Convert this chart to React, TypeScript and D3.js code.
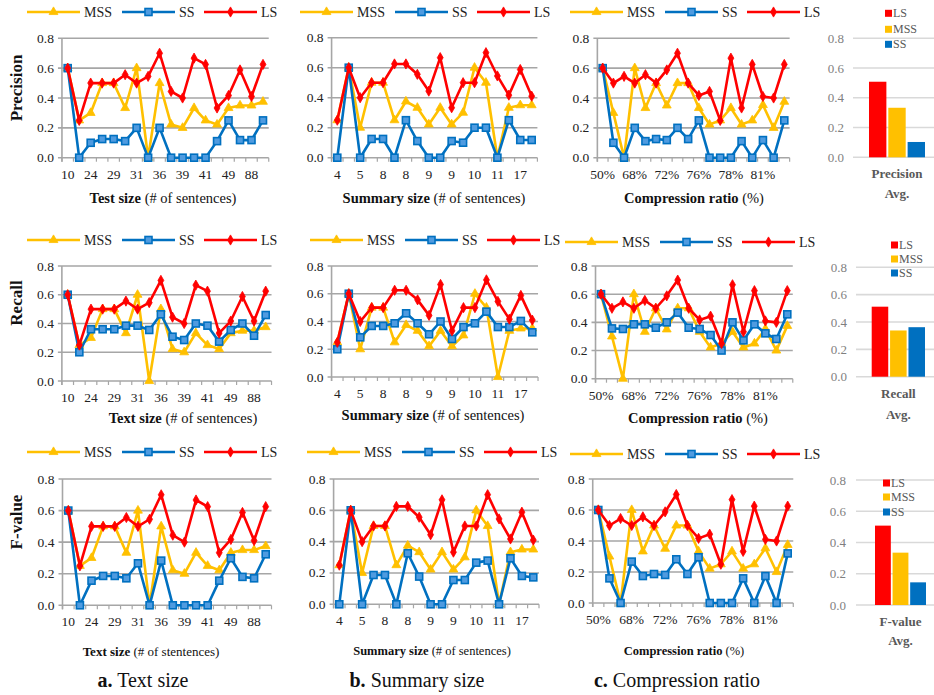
import React from 'react';
import * as d3 from 'd3';

const FONT = '"Liberation Serif", "Times New Roman", serif';
const COLORS: Record<string, string> = { MSS: '#FFC000', SS: '#0070C0', LS: '#FF0000' };
const SERIES = ['MSS', 'SS', 'LS'];

// tick labels
const textSizeTicks = ['10', '24', '29', '31', '36', '39', '41', '49', '88'];
const summarySizeTicks = ['4', '5', '8', '8', '9', '9', '10', '11', '17'];
const compressionTicks = ['50%', '68%', '72%', '76%', '78%', '81%'];

// a. Text size
const textPrecLS = [0.6, 0.25, 0.5, 0.5, 0.5, 0.556, 0.5, 0.545, 0.7, 0.444, 0.4, 0.667, 0.625, 0.333, 0.417, 0.588, 0.41, 0.625];
const textPrecMSS = [0.6, 0.25, 0.3, 0.5, 0.5, 0.333, 0.6, 0.0, 0.5, 0.222, 0.2, 0.333, 0.25, 0.222, 0.333, 0.35, 0.35, 0.375];
const textPrecSS = [0.6, 0.0, 0.1, 0.125, 0.125, 0.111, 0.2, 0.0, 0.2, 0.0, 0.0, 0.0, 0.0, 0.111, 0.25, 0.118, 0.118, 0.25];
const textRecLS = [0.6, 0.25, 0.5, 0.5, 0.5, 0.556, 0.5, 0.545, 0.7, 0.444, 0.4, 0.667, 0.625, 0.333, 0.417, 0.588, 0.417, 0.625];
const textRecMSS = [0.6, 0.25, 0.3, 0.5, 0.5, 0.333, 0.6, 0.0, 0.5, 0.222, 0.2, 0.333, 0.25, 0.222, 0.333, 0.35, 0.35, 0.375];
const textRecSS = [0.6, 0.2, 0.36, 0.36, 0.36, 0.385, 0.385, 0.355, 0.464, 0.308, 0.285, 0.4, 0.385, 0.274, 0.355, 0.4, 0.315, 0.459];
const textFLS = [0.6, 0.25, 0.5, 0.5, 0.5, 0.556, 0.5, 0.545, 0.7, 0.444, 0.4, 0.667, 0.625, 0.333, 0.417, 0.588, 0.41, 0.625];
const textFMSS = [0.6, 0.25, 0.3, 0.5, 0.5, 0.333, 0.6, 0.0, 0.5, 0.222, 0.2, 0.333, 0.25, 0.222, 0.333, 0.35, 0.35, 0.375];
const textFSS = [0.6, 0.0, 0.156, 0.186, 0.186, 0.171, 0.266, 0.0, 0.283, 0.0, 0.0, 0.0, 0.0, 0.156, 0.298, 0.18, 0.171, 0.323];

// b. Summary size
const sumPrecLS = [0.25, 0.6, 0.4, 0.5, 0.5, 0.625, 0.625, 0.556, 0.444, 0.667, 0.333, 0.5, 0.5, 0.7, 0.545, 0.417, 0.588, 0.41];
const sumPrecMSS = [0.25, 0.6, 0.2, 0.5, 0.5, 0.25, 0.375, 0.333, 0.222, 0.333, 0.222, 0.3, 0.6, 0.5, 0.0, 0.333, 0.35, 0.35];
const sumPrecSS = [0.0, 0.6, 0.0, 0.125, 0.125, 0.0, 0.25, 0.111, 0.0, 0.0, 0.111, 0.1, 0.2, 0.2, 0.0, 0.25, 0.118, 0.118];
const sumRecLS = [0.25, 0.6, 0.4, 0.5, 0.5, 0.625, 0.625, 0.556, 0.444, 0.667, 0.333, 0.5, 0.5, 0.7, 0.545, 0.417, 0.588, 0.41];
const sumRecMSS = [0.25, 0.6, 0.2, 0.5, 0.5, 0.25, 0.375, 0.333, 0.222, 0.333, 0.222, 0.3, 0.6, 0.5, 0.0, 0.333, 0.35, 0.35];
const sumRecSS = [0.2, 0.6, 0.286, 0.368, 0.368, 0.387, 0.459, 0.387, 0.308, 0.4, 0.274, 0.36, 0.387, 0.471, 0.36, 0.36, 0.404, 0.322];
const sumFLS = [0.25, 0.6, 0.4, 0.5, 0.5, 0.625, 0.625, 0.556, 0.444, 0.667, 0.333, 0.5, 0.5, 0.7, 0.545, 0.417, 0.588, 0.41];
const sumFMSS = [0.25, 0.6, 0.2, 0.5, 0.5, 0.25, 0.375, 0.333, 0.222, 0.333, 0.222, 0.3, 0.6, 0.5, 0.0, 0.333, 0.35, 0.35];
const sumFSS = [0.0, 0.6, 0.0, 0.187, 0.187, 0.0, 0.326, 0.177, 0.0, 0.0, 0.155, 0.155, 0.266, 0.279, 0.0, 0.294, 0.181, 0.172];

// c. Compression ratio
const compPrecLS = [0.6, 0.5, 0.545, 0.5, 0.556, 0.5, 0.588, 0.7, 0.5, 0.417, 0.444, 0.25, 0.667, 0.333, 0.625, 0.41, 0.4, 0.625];
const compPrecMSS = [0.6, 0.3, 0.0, 0.6, 0.333, 0.5, 0.35, 0.5, 0.5, 0.333, 0.222, 0.25, 0.333, 0.222, 0.25, 0.353, 0.2, 0.375];
const compPrecSS = [0.6, 0.1, 0.0, 0.2, 0.111, 0.125, 0.118, 0.2, 0.125, 0.25, 0.0, 0.0, 0.0, 0.111, 0.0, 0.118, 0.0, 0.25];
const compRecLS = [0.6, 0.5, 0.545, 0.5, 0.556, 0.5, 0.588, 0.7, 0.5, 0.417, 0.444, 0.25, 0.667, 0.333, 0.625, 0.41, 0.4, 0.625];
const compRecMSS = [0.6, 0.3, 0.0, 0.6, 0.333, 0.5, 0.35, 0.5, 0.5, 0.333, 0.222, 0.25, 0.333, 0.222, 0.25, 0.353, 0.2, 0.375];
const compRecSS = [0.6, 0.357, 0.353, 0.386, 0.386, 0.362, 0.4, 0.469, 0.362, 0.353, 0.31, 0.2, 0.4, 0.272, 0.386, 0.322, 0.282, 0.457];
const compFLS = [0.6, 0.5, 0.545, 0.5, 0.556, 0.5, 0.588, 0.7, 0.5, 0.417, 0.444, 0.25, 0.667, 0.333, 0.625, 0.41, 0.4, 0.625];
const compFMSS = [0.6, 0.3, 0.0, 0.6, 0.333, 0.5, 0.35, 0.5, 0.5, 0.333, 0.222, 0.25, 0.333, 0.222, 0.25, 0.353, 0.2, 0.375];
const compFSS = [0.6, 0.159, 0.0, 0.267, 0.174, 0.187, 0.181, 0.282, 0.187, 0.295, 0.0, 0.0, 0.0, 0.159, 0.0, 0.174, 0.0, 0.32];

// averages
const avgSeries = ['LS', 'MSS', 'SS'];
const avgPrecision = [0.508, 0.333, 0.103];
const avgRecall = [0.512, 0.338, 0.362];
const avgFValue = [0.508, 0.335, 0.145];

const yTicks = [0, 0.2, 0.4, 0.6, 0.8];
const fmt = d3.format('.1f');

type LinePanelProps = {
  x0: number; x1: number; yZero: number; yTop: number;
  ticks: string[]; tickEvery: number;
  data: Record<string, number[]>;
  legendX: number; legendY: number;
  title: [string, string]; titleX: number; titleY: number; titleSize?: number;
};

function Marker({ s, cx, cy }: { s: string; cx: number; cy: number }) {
  if (s === 'SS') {
    return <rect x={cx - 3.5} y={cy - 3.5} width={7} height={7} fill="#4f9be0" stroke={COLORS.SS} strokeWidth={1.6} />;
  }
  const sym = s === 'MSS' ? d3.symbol(d3.symbolTriangle, 34) : d3.symbol(d3.symbolDiamond, 30);
  return <path d={sym() || ''} transform={`translate(${cx},${cy})`} fill={COLORS[s]} stroke={COLORS[s]} strokeWidth={0.8} />;
}

function LinePanel(p: LinePanelProps) {
  const n = p.data.LS.length;
  const x = d3.scalePoint<number>().domain(d3.range(n)).range([p.x0, p.x1]);
  const step = x.step();
  const left = p.x0 - step / 2;
  const right = p.x1 + step / 2;
  const y = d3.scaleLinear().domain([0, 0.8]).range([p.yZero, p.yTop]);
  const line = d3.line<number>().x((_, i) => x(i) as number).y((d) => y(d));
  const legendOffsets = [0, 95, 177];
  return (
    <g>
      {yTicks.map((v) => (
        <g key={v}>
          <line x1={left - 4} x2={right} y1={y(v)} y2={y(v)} stroke="#a6a6a6" strokeWidth={1.6} />
          <text x={left - 8} y={y(v) + 4.5} textAnchor="end" fontSize={13.5} fill="#222">{fmt(v)}</text>
        </g>
      ))}
      <line x1={left} x2={left} y1={y(0) + 4} y2={y(0.8)} stroke="#a6a6a6" strokeWidth={1.6} />
      {d3.range(n + 1).map((i) => (
        <line key={i} x1={left + i * step} x2={left + i * step} y1={y(0)} y2={y(0) + 4} stroke="#a6a6a6" strokeWidth={1.2} />
      ))}
      {d3.range(n).filter((i) => i % p.tickEvery === 0).map((i) => (
        <text key={i} x={x(i)} y={p.yZero + 21} textAnchor="middle" fontSize={13.5} fill="#222">
          {p.ticks[i / p.tickEvery]}
        </text>
      ))}
      {SERIES.map((s) => (
        <g key={s}>
          <path d={line(p.data[s]) || ''} fill="none" stroke={COLORS[s]} strokeWidth={2.6} strokeLinejoin="round" />
          {p.data[s].map((v, i) => <Marker key={i} s={s} cx={x(i) as number} cy={y(v)} />)}
        </g>
      ))}
      {SERIES.map((s, k) => {
        const lx = p.legendX + legendOffsets[k];
        return (
          <g key={s}>
            <line x1={lx} x2={lx + 53} y1={p.legendY} y2={p.legendY} stroke={COLORS[s]} strokeWidth={2.6} />
            <Marker s={s} cx={lx + 26.5} cy={p.legendY} />
            <text x={lx + 57} y={p.legendY + 5} fontSize={14} fill="#222">{s}</text>
          </g>
        );
      })}
      <text x={p.titleX} y={p.titleY} textAnchor="middle" fontSize={p.titleSize || 14.5} fill="#111">
        <tspan fontWeight="bold">{p.title[0]}</tspan>
        <tspan>{' ' + p.title[1]}</tspan>
      </text>
    </g>
  );
}

type BarPanelProps = {
  values: number[]; yZero: number; yTop: number; bx0: number; bx1: number;
  gridX0: number; labelX: number; legendX: number; legendYs: number[];
  label: string; labelY: number; avgY: number;
};

function BarPanel(p: BarPanelProps) {
  const y = d3.scaleLinear().domain([0, 0.8]).range([p.yZero, p.yTop]);
  const x = d3.scaleBand<string>().domain(avgSeries).range([p.bx0, p.bx1]).paddingInner(0.1);
  const cx = (p.bx0 + p.bx1) / 2;
  return (
    <g>
      {yTicks.map((v) => (
        <g key={v}>
          <line x1={p.gridX0} x2={934} y1={y(v)} y2={y(v)} stroke="#d9d9d9" strokeWidth={1.6} />
          <text x={p.labelX} y={y(v) + 4.5} textAnchor="end" fontSize={13} fill="#7f7f7f">{fmt(v)}</text>
        </g>
      ))}
      {avgSeries.map((s, i) => (
        <rect key={s} x={x(s)} y={y(p.values[i])} width={x.bandwidth()} height={y(0) - y(p.values[i])} fill={COLORS[s]} />
      ))}
      {avgSeries.map((s, i) => (
        <g key={s}>
          <rect x={p.legendX} y={p.legendYs[i] - 3.5} width={7} height={7} fill={COLORS[s]} />
          <text x={p.legendX + 8} y={p.legendYs[i] + 4} fontSize={12} fill="#595959">{s}</text>
        </g>
      ))}
      <text x={cx} y={p.labelY + 4.5} textAnchor="middle" fontSize={13} fontWeight="bold" fill="#595959">{p.label}</text>
      <text x={cx} y={p.avgY + 4.5} textAnchor="middle" fontSize={13} fontWeight="bold" fill="#595959">Avg.</text>
    </g>
  );
}

export default function App() {
  return (
    <svg width={934} height={695} style={{ position: 'absolute', left: 0, top: 0, background: '#fff' }} fontFamily={FONT}>
      <rect width={934} height={695} fill="#fff" />
      {/* Row 1: Precision */}
      <LinePanel x0={67.7} x1={263} yZero={157.7} yTop={38.3} ticks={textSizeTicks} tickEvery={2}
        data={{ MSS: textPrecMSS, SS: textPrecSS, LS: textPrecLS }} legendX={27} legendY={12}
        title={['Test size', '(# of sentences)']} titleX={163} titleY={203} />
      <LinePanel x0={337.3} x1={531.7} yZero={157.7} yTop={37.7} ticks={summarySizeTicks} tickEvery={2}
        data={{ MSS: sumPrecMSS, SS: sumPrecSS, LS: sumPrecLS }} legendX={300} legendY={12}
        title={['Summary size', '(# of sentences)']} titleX={434} titleY={203} />
      <LinePanel x0={602.7} x1={784.3} yZero={157.7} yTop={38.3} ticks={compressionTicks} tickEvery={3}
        data={{ MSS: compPrecMSS, SS: compPrecSS, LS: compPrecLS }} legendX={570} legendY={12}
        title={['Compression ratio', '(%)']} titleX={694} titleY={203} />
      {/* Row 2: Recall */}
      <LinePanel x0={67.7} x1={265.7} yZero={381} yTop={266} ticks={textSizeTicks} tickEvery={2}
        data={{ MSS: textRecMSS, SS: textRecSS, LS: textRecLS }} legendX={27} legendY={240}
        title={['Text size', '(# of sentences)']} titleX={183} titleY={423} />
      <LinePanel x0={337.3} x1={532.3} yZero={377} yTop={266} ticks={summarySizeTicks} tickEvery={2}
        data={{ MSS: sumRecMSS, SS: sumRecSS, LS: sumRecLS }} legendX={310} legendY={240}
        title={['Summary size', '(# of sentences)']} titleX={433} titleY={420} />
      <LinePanel x0={601} x1={787.3} yZero={378.7} yTop={266} ticks={compressionTicks} tickEvery={3}
        data={{ MSS: compRecMSS, SS: compRecSS, LS: compRecLS }} legendX={565} legendY={242}
        title={['Compression ratio', '(%)']} titleX={698} titleY={423} />
      {/* Row 3: F-value */}
      <LinePanel x0={68.3} x1={265.7} yZero={605.3} yTop={479} ticks={textSizeTicks} tickEvery={2}
        data={{ MSS: textFMSS, SS: textFSS, LS: textFLS }} legendX={27} legendY={452}
        title={['Text size', '(# of stentences)']} titleX={151} titleY={656} titleSize={13} />
      <LinePanel x0={339.3} x1={533.3} yZero={604.3} yTop={479} ticks={summarySizeTicks} tickEvery={2}
        data={{ MSS: sumFMSS, SS: sumFSS, LS: sumFLS }} legendX={307} legendY={452}
        title={['Summary size', '(# of sentences)']} titleX={432} titleY={655} titleSize={12.5} />
      <LinePanel x0={598.3} x1={787.7} yZero={603} yTop={479} ticks={compressionTicks} tickEvery={3}
        data={{ MSS: compFMSS, SS: compFSS, LS: compFLS }} legendX={570} legendY={454}
        title={['Compression ratio', '(%)']} titleX={684} titleY={655} titleSize={12.5} />

      {/* Y axis titles */}
      {[['Precision', 88], ['Recall', 303], ['F-value', 522]].map(([t, cy]) => (
        <text key={t as string} transform={`translate(22,${cy}) rotate(-90)`} textAnchor="middle" fontSize={17} fontWeight="bold" fill="#111">{t}</text>
      ))}

      {/* Average bar panels */}
      <BarPanel values={avgPrecision} yZero={157.3} yTop={38.3} bx0={869} bx1={925} gridX0={853} labelX={844}
        legendX={885} legendYs={[13.3, 29.3, 44.3]} label="Precision" labelY={173} avgY={193} />
      <BarPanel values={avgRecall} yZero={376.7} yTop={267.3} bx0={871.7} bx1={925} gridX0={856} labelX={847}
        legendX={891} legendYs={[245, 259, 273]} label="Recall" labelY={393} avgY={414} />
      <BarPanel values={avgFValue} yZero={605} yTop={480} bx0={875} bx1={926} gridX0={856} labelX={846}
        legendX={883} legendYs={[483, 497, 512]} label="F-value" labelY={621} avgY={640} />

      {/* Captions */}
      {[['a.', 'Text size', 143], ['b.', 'Summary size', 417], ['c.', 'Compression ratio', 677]].map(([a, b, cx]) => (
        <text key={a as string} x={cx as number} y={687} textAnchor="middle" fontSize={20} fill="#111">
          <tspan fontWeight="bold">{a}</tspan>
          <tspan>{' ' + b}</tspan>
        </text>
      ))}
    </svg>
  );
}
